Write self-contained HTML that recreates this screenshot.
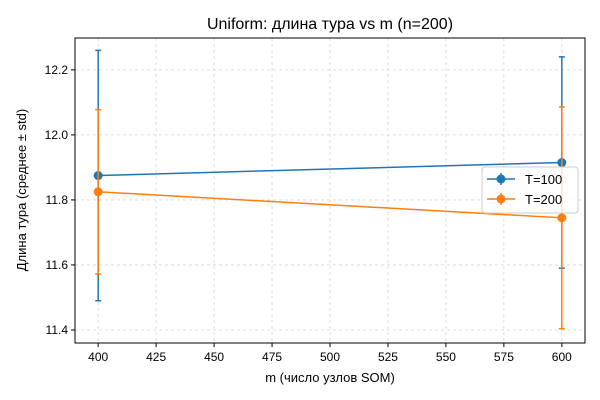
<!DOCTYPE html>
<html><head><meta charset="utf-8"><style>body{margin:0;background:#fff}svg{display:block;font-family:"Liberation Sans","DejaVu Sans",sans-serif}</style></head>
<body>
<svg id="c" width="600" height="400"></svg>
<script>
const mValues=[400,600];
const t100Mean=[11.875,11.915];
const t100Std=[0.385,0.325];
const t200Mean=[11.825,11.745];
const t200Std=[0.253,0.341];
const xTicks=[400,425,450,475,500,525,550,575,600];
const yTicks=[11.4,11.6,11.8,12.0,12.2];
const L=75,R=585,T=38,B=343;
const x0=390,x1=610,y0=11.36,y1=12.298;
const sx=v=>L+(v-x0)/(x1-x0)*(R-L);
const sy=v=>B-(v-y0)/(y1-y0)*(B-T);
const svg=document.getElementById('c');
const NS='http://www.w3.org/2000/svg';
function mk(t,a,p){const e=document.createElementNS(NS,t);for(const k in a)e.setAttribute(k,a[k]);(p||svg).appendChild(e);return e;}
xTicks.forEach(v=>{const x=sx(v);
const g=mk('line',{x1:x,x2:x,y1:T,y2:B,stroke:'#d6d6d6','stroke-dasharray':'3,3','stroke-width':0.8});


mk('line',{x1:x,x2:x,y1:B,y2:B+4,stroke:'#000'});
const t=mk('text',{x:x,y:B+18,'text-anchor':'middle','font-size':12});t.textContent=v;

});
yTicks.forEach(v=>{const y=sy(v);
const g=mk('line',{x1:L,x2:R,y1:y,y2:y,stroke:'#d6d6d6','stroke-dasharray':'3,3','stroke-width':0.8});


mk('line',{x1:L-4,x2:L,y1:y,y2:y,stroke:'#000'});
const t=mk('text',{x:L-7,y:y+4,'text-anchor':'end','font-size':12});t.textContent=v.toFixed(1);

});
function series(means,stds,color,name){
const g=mk('g',{});


mk('polyline',{points:mValues.map((m,i)=>sx(m)+','+sy(means[i])).join(' '),fill:'none',stroke:color,'stroke-width':1.5},g);
mValues.forEach((m,i)=>{const x=sx(m),a=sy(means[i]+stds[i]),b=sy(means[i]-stds[i]);
mk('line',{x1:x,x2:x,y1:a,y2:b,stroke:color,'stroke-width':1.5},g);
mk('line',{x1:x-3,x2:x+3,y1:a,y2:a,stroke:color,'stroke-width':1.5},g);
mk('line',{x1:x-3,x2:x+3,y1:b,y2:b,stroke:color,'stroke-width':1.5},g);
const c=mk('circle',{cx:x,cy:sy(means[i]),r:4.5,fill:color},g);

});}
series(t100Mean,t100Std,'#1f77b4','series-t100');
series(t200Mean,t200Std,'#ff7f0e','series-t200');
mk('rect',{x:L,y:T,width:R-L,height:B-T,fill:'none',stroke:'#000','stroke-width':1});
</script>
<svg width="600" height="400" style="position:absolute;left:0;top:0;font-family:'Liberation Sans','DejaVu Sans',sans-serif">
<text x="330" y="29" text-anchor="middle" font-size="16">Uniform: длина тура vs m (n=200)</text>
<text x="330" y="382" text-anchor="middle" font-size="13">m (число узлов SOM)</text>
<text transform="translate(26,190) rotate(-90)" text-anchor="middle" font-size="13">Длина тура (среднее ± std)</text>
<g>
<rect x="482" y="167" width="96" height="46" rx="3" fill="#fff" fill-opacity="0.8" stroke="#ccc"/>
<g>
<line x1="487" x2="515" y1="179" y2="179" stroke="#1f77b4" stroke-width="1.5"/><line x1="501" x2="501" y1="173" y2="185" stroke="#1f77b4" stroke-width="1.5"/><circle cx="501" cy="179" r="4.5" fill="#1f77b4"/>
<text x="525" y="184" font-size="13">T=100</text></g>
<g>
<line x1="487" x2="515" y1="199" y2="199" stroke="#ff7f0e" stroke-width="1.5"/><line x1="501" x2="501" y1="193" y2="205" stroke="#ff7f0e" stroke-width="1.5"/><circle cx="501" cy="199" r="4.5" fill="#ff7f0e"/>
<text x="525" y="204" font-size="13">T=200</text></g>
</g>
</svg>
</body></html>
